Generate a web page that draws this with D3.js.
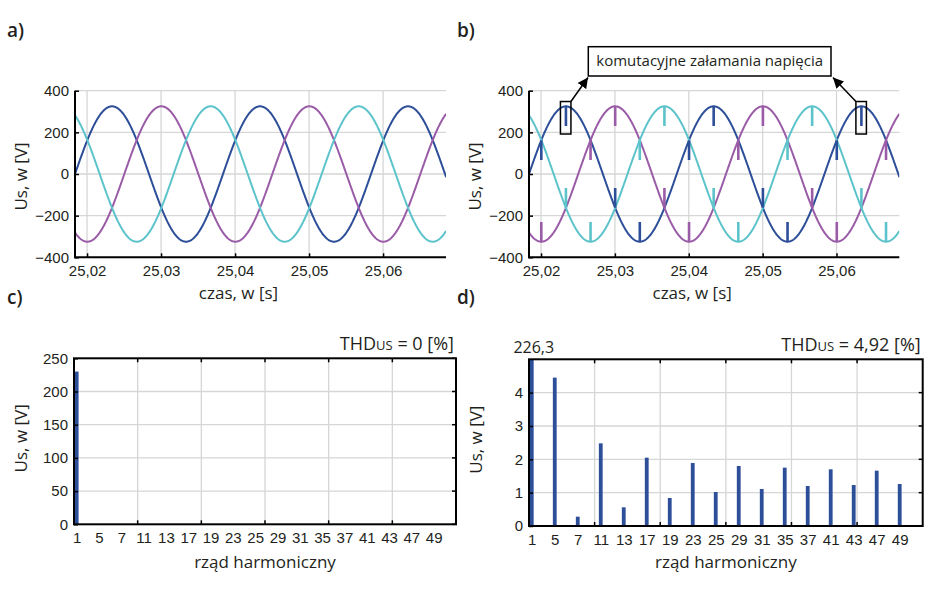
<!DOCTYPE html>
<html>
<head>
<meta charset="utf-8">
<script src="https://d3js.org/d3.v7.min.js"></script>
<style>
  body { margin: 0; background: #fff; }
  svg { display: block; font-family: "Open Sans", sans-serif; }
</style>
</head>
<body>
<div id="chart"></div>
<script>
// --- waveform parameters read off panels a) and b) ---
const timeDomain = [25.01837, 25.0685];
const timeTicks = [25.02, 25.03, 25.04, 25.05, 25.06];
const voltTicks = [-400, -200, 0, 200, 400];
const amplitude = 325;          // V peak
const frequency = 50;           // Hz
const zeroCrossing = 25.01837;  // rising zero of the first phase
const phaseLag = [0, 120, 240]; // degrees
const phaseColors = ["#2d4e98", "#9a5ba7", "#5dc3cb"];

// commutation notches (panel b): angle of first phase in degrees and the two phases hit
const notchAngles = [30, 90, 150, 210, 270, 330];
const notchPhases = [[0, 1], [0, 2], [1, 2], [1, 0], [2, 0], [2, 1]];
const notchDepth = 95;

// --- spectra, panels c) and d) ---
const harmonicOrders = [1, 5, 7, 11, 13, 17, 19, 23, 25, 29, 31, 35, 37, 41, 43, 47, 49];
const spectrumSine = [230, 0, 0, 0, 0, 0, 0, 0, 0, 0, 0, 0, 0, 0, 0, 0, 0];
const spectrumNotched = [226.3, 4.45, 0.28, 2.48, 0.56, 2.05, 0.84, 1.89, 1.02, 1.80, 1.11, 1.75, 1.20, 1.70, 1.23, 1.66, 1.26];
const sineTicks = [0, 50, 100, 150, 200, 250];
const notchedTicks = [0, 1, 2, 3, 4];

const width = 940, height = 593;
const textColor = "#231f20";
const gridColor = "#d6d6d6";
const tickFont = 15;

const svg = d3.select("#chart").append("svg")
    .attr("width", width)
    .attr("height", height);

svg.append("rect").attr("width", width).attr("height", height).attr("fill", "#fff");

const comma = v => String(v).replace(".", ",");

function voltage(t, p) {
    const deg = (t - zeroCrossing) * frequency * 360 - phaseLag[p];
    return amplitude * Math.sin(deg * Math.PI / 180);
}

function styleAxis(g, size) {
    g.selectAll("text").attr("fill", textColor).style("font-size", size + "px");
    g.selectAll("line").attr("stroke", "#000").attr("stroke-width", 1.5);
    g.select(".domain").remove();
}

// --- time-domain panels ---
function wavePanel(left, right, id, withNotches) {
    const top = 90.7, bottom = 257.3;
    const x = d3.scaleLinear().domain(timeDomain).range([left, right]);
    const y = d3.scaleLinear().domain([-400, 400]).range([bottom, top]);
    const g = svg.append("g");

    // grid
    g.selectAll(".vg").data(timeTicks).enter().append("line")
        .attr("x1", d => x(d)).attr("x2", d => x(d))
        .attr("y1", top).attr("y2", bottom)
        .attr("stroke", gridColor).attr("stroke-width", 1.3);
    g.selectAll(".hg").data(voltTicks.slice(1)).enter().append("line")
        .attr("x1", left).attr("x2", right)
        .attr("y1", d => y(d)).attr("y2", d => y(d))
        .attr("stroke", gridColor).attr("stroke-width", 1.3);

    g.append("defs").append("clipPath").attr("id", "clip" + id)
        .append("rect").attr("x", left).attr("y", top - 5)
        .attr("width", right - left).attr("height", bottom - top + 10);

    const plot = g.append("g").attr("clip-path", `url(#clip${id})`);
    const times = d3.range(timeDomain[0], timeDomain[1] + 0.00005, 0.00005);
    const line = d3.line().x(d => x(d[0])).y(d => y(d[1]));

    phaseLag.forEach((lag, p) => {
        plot.append("path")
            .datum(times.map(t => [t, voltage(t, p)]))
            .attr("d", line)
            .attr("fill", "none")
            .attr("stroke", phaseColors[p])
            .attr("stroke-width", 2);
    });

    if (withNotches) {
        const notches = [];
        d3.range(0, 4).forEach(k => {
            notchAngles.forEach((a, i) => {
                const t = zeroCrossing + (a / 360 + k) / frequency;
                if (t < timeDomain[0] || t > timeDomain[1]) return;
                notchPhases[i].forEach(p => {
                    const v = voltage(t, p);
                    notches.push({ t: t, v: v, end: v - Math.sign(v) * notchDepth, p: p });
                });
            });
        });
        plot.selectAll(".notch").data(notches).enter().append("line")
            .attr("x1", d => x(d.t)).attr("x2", d => x(d.t))
            .attr("y1", d => y(d.v)).attr("y2", d => y(d.end))
            .attr("stroke", d => phaseColors[d.p])
            .attr("stroke-width", 2.6);
    }

    // axes
    const ax = g.append("g").attr("transform", `translate(0,${bottom})`)
        .call(d3.axisBottom(x).tickValues(timeTicks).tickFormat(d => comma(d.toFixed(2)))
            .tickSize(-4).tickPadding(8));
    styleAxis(ax, tickFont);
    const ay = g.append("g").attr("transform", `translate(${left},0)`)
        .call(d3.axisLeft(y).tickValues(voltTicks).tickSize(-4).tickPadding(6));
    styleAxis(ay, tickFont);

    g.append("line").attr("x1", left).attr("x2", left).attr("y1", top).attr("y2", bottom + 1)
        .attr("stroke", "#000").attr("stroke-width", 2);
    g.append("line").attr("x1", left - 1).attr("x2", right).attr("y1", bottom).attr("y2", bottom)
        .attr("stroke", "#000").attr("stroke-width", 2);

    g.append("text")
        .attr("transform", `translate(${left - 48},176.5) rotate(-90)`)
        .attr("text-anchor", "middle")
        .attr("fill", textColor).style("font-size", "17px")
        .text("Us, w [V]");
    g.append("text")
        .attr("x", (left + right) / 2 - 22).attr("y", 299)
        .attr("text-anchor", "middle")
        .attr("fill", textColor).style("font-size", "17px")
        .text("czas, w [s]");

    return { x: x, y: y };
}

// --- spectrum panels ---
function spectrumPanel(left, right, top, bottom, values, ticks, vmax, thd, topLabel) {
    const x = d3.scaleLinear().domain([-0.12, harmonicOrders.length]).range([left, right]);
    const y = d3.scaleLinear().domain([0, vmax]).range([bottom, top]);
    const g = svg.append("g");
    const gridX = d3.range(1, 6).map(k => left + (right - left) * k / 6);

    g.selectAll(".vg").data(gridX).enter().append("line")
        .attr("x1", d => d).attr("x2", d => d).attr("y1", top).attr("y2", bottom)
        .attr("stroke", gridColor).attr("stroke-width", 1.3);
    g.selectAll(".hg").data(ticks.filter(d => d > 0 && d < vmax)).enter().append("line")
        .attr("x1", left).attr("x2", right).attr("y1", d => y(d)).attr("y2", d => y(d))
        .attr("stroke", gridColor).attr("stroke-width", 1.3);

    // inward tick marks on all four sides
    gridX.forEach(gx => {
        g.append("line").attr("x1", gx).attr("x2", gx).attr("y1", bottom).attr("y2", bottom - 4)
            .attr("stroke", "#000").attr("stroke-width", 1.5);
        g.append("line").attr("x1", gx).attr("x2", gx).attr("y1", top).attr("y2", top + 4)
            .attr("stroke", "#000").attr("stroke-width", 1.5);
    });
    ticks.forEach(t => {
        g.append("line").attr("x1", right).attr("x2", right - 4).attr("y1", y(t)).attr("y2", y(t))
            .attr("stroke", "#000").attr("stroke-width", 1.5);
    });

    g.append("defs").append("clipPath").attr("id", "clip" + left)
        .append("rect").attr("x", left).attr("y", top)
        .attr("width", right - left).attr("height", bottom - top);

    const bw = 3.8;
    g.append("g").attr("clip-path", `url(#clip${left})`)
        .selectAll("rect").data(values).enter().append("rect")
        .attr("x", (d, i) => x(i) - bw / 2)
        .attr("y", d => y(Math.min(d, vmax)))
        .attr("width", bw)
        .attr("height", d => y(0) - y(Math.min(d, vmax)))
        .attr("fill", "#2d4e98");

    const ax = g.append("g").attr("transform", `translate(0,${bottom})`)
        .call(d3.axisBottom(x).tickValues(d3.range(harmonicOrders.length))
            .tickFormat(i => harmonicOrders[i]).tickSize(0).tickPadding(8));
    styleAxis(ax, tickFont);
    const ay = g.append("g").attr("transform", `translate(${left},0)`)
        .call(d3.axisLeft(y).tickValues(ticks).tickFormat(d3.format("d")).tickSize(-4).tickPadding(6));
    styleAxis(ay, tickFont);

    g.append("rect").attr("x", left).attr("y", top)
        .attr("width", right - left).attr("height", bottom - top)
        .attr("fill", "none").attr("stroke", "#000").attr("stroke-width", 2);

    const th = g.append("text").attr("x", right - 2).attr("y", top - 8)
        .attr("text-anchor", "end").attr("fill", textColor).style("font-size", "18px");
    th.append("tspan").text("THD");
    th.append("tspan").style("font-size", "13px").text("US");
    th.append("tspan").text(" = " + thd + " [%]");

    if (topLabel) {
        g.append("text").attr("x", x(0) + 2).attr("y", top - 6)
            .attr("text-anchor", "middle").attr("fill", textColor).style("font-size", "16px")
            .text(topLabel);
    }

    g.append("text")
        .attr("transform", `translate(${left - 47},${(top + bottom) / 2 - 3}) rotate(-90)`)
        .attr("text-anchor", "middle").attr("fill", textColor).style("font-size", "17px")
        .text("Us, w [V]");
    g.append("text")
        .attr("x", (left + right) / 2).attr("y", 568)
        .attr("text-anchor", "middle").attr("fill", textColor).style("font-size", "17px")
        .text("rząd harmoniczny");
}

wavePanel(75, 446, "a", false);
const b = wavePanel(529, 899.3, "b", true);

// annotation of commutation notches in panel b
const marked = [zeroCrossing + 0.25 / frequency, zeroCrossing + 2.25 / frequency];
svg.append("defs").append("marker").attr("id", "arrow")
    .attr("viewBox", "0 0 10 10").attr("refX", 10).attr("refY", 5)
    .attr("markerWidth", 7).attr("markerHeight", 7).attr("orient", "auto")
    .append("path").attr("d", "M0,0 L10,5 L0,10 z").attr("fill", "#000");

marked.forEach(t => {
    svg.append("rect")
        .attr("x", b.x(t) - 5.5).attr("y", b.y(348))
        .attr("width", 10.5).attr("height", b.y(192) - b.y(348))
        .attr("fill", "none").attr("stroke", "#000").attr("stroke-width", 1.5);
});
svg.append("line").attr("x1", b.x(marked[0]) + 5).attr("y1", b.y(348))
    .attr("x2", 588).attr("y2", 77.5)
    .attr("stroke", "#000").attr("stroke-width", 1.5).attr("marker-end", "url(#arrow)");
svg.append("line").attr("x1", b.x(marked[1]) - 5.5).attr("y1", b.y(348))
    .attr("x2", 833).attr("y2", 77.5)
    .attr("stroke", "#000").attr("stroke-width", 1.5).attr("marker-end", "url(#arrow)");
svg.append("rect").attr("x", 588.3).attr("y", 46.7).attr("width", 242.7).attr("height", 29.3)
    .attr("fill", "#fff").attr("stroke", "#000").attr("stroke-width", 1.5);
svg.append("text").attr("x", 709.7).attr("y", 66).attr("text-anchor", "middle")
    .attr("fill", textColor).style("font-size", "15px")
    .text("komutacyjne załamania napięcia");

spectrumPanel(74, 456, 358.3, 524.3, spectrumSine, sineTicks, 250, "0", null);
spectrumPanel(529, 922.7, 359.3, 526, spectrumNotched, notchedTicks, 5, "4,92", "226,3");

// panel letters
[["a)", 7, 37], ["b)", 457, 37], ["c)", 7, 304], ["d)", 457, 304]].forEach(l => {
    svg.append("text").attr("x", l[1]).attr("y", l[2])
        .attr("fill", textColor).style("font-size", "19px").style("font-weight", 600)
        .text(l[0]);
});
</script>
</body>
</html>
